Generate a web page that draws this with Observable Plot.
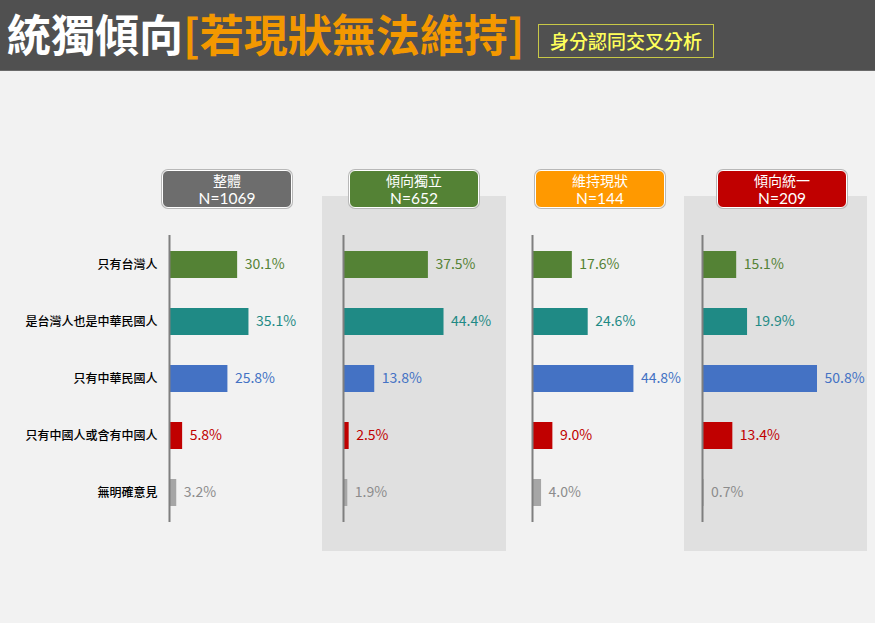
<!DOCTYPE html>
<html>
<head>
<meta charset="utf-8">
<script src="https://cdn.jsdelivr.net/npm/d3@7"></script>
<script src="https://cdn.jsdelivr.net/npm/@observablehq/plot@0.6"></script>
<style>
  html, body { margin: 0; padding: 0; }
  body { width: 875px; height: 623px; background: #f2f2f2; position: relative; overflow: hidden;
         font-family: "Noto Sans CJK TC", "Noto Sans", sans-serif; }
  #header { position: absolute; left: 0; top: 0; width: 875px; height: 70px; background: #505050; border-bottom: 1px solid #6a6a6a; }
  #title { position: absolute; left: 7px; top: 5px; font-size: 44px; font-weight: bold; line-height: 56px; color: #fff; white-space: nowrap; }
  #title .hl { color: #f39800; }
  #subtitle { position: absolute; left: 538px; top: 24px; width: 174px; height: 32px; border: 1px solid #c8c846; color: #ffff5a;
              font-size: 19px; line-height: 32px; text-align: center; font-weight: 500; }
  .ghead { position: absolute; top: 170px; width: 128px; height: 36px; border: 1.5px solid #fff; box-shadow: 0 0 0 1px #b8b8b8;
           border-radius: 6px; color: #fff; text-align: center; box-sizing: content-box; }
  .ghead .l1 { font-size: 14px; line-height: 18px; height: 18px; }
  .ghead .l2 { font-family: Lato, "Open Sans", sans-serif; font-size: 15.5px; line-height: 18px; height: 18px; }
  .panel { position: absolute; top: 196px; }
</style>
</head>
<body>
<div id="header">
  <div id="title">統獨傾向<span class="hl">[若現狀無法維持]</span></div>
  <div id="subtitle">身分認同交叉分析</div>
</div>
<div id="root"></div>
<script>
const categories = ["只有台灣人", "是台灣人也是中華民國人", "只有中華民國人", "只有中國人或含有中國人", "無明確意見"];
const groups = ["整體", "傾向獨立", "維持現狀", "傾向統一"];
const sampleSizes = [1069, 652, 144, 209];
const overall = [30.1, 35.1, 25.8, 5.8, 3.2];
const leanIndependence = [37.5, 44.4, 13.8, 2.5, 1.9];
const maintainStatusQuo = [17.6, 24.6, 44.8, 9.0, 4.0];
const leanUnification = [15.1, 19.9, 50.8, 13.4, 0.7];
const barColors = ["#548235", "#1f8a85", "#4472c4", "#c00000", "#a6a6a6"];
const labelColors = ["#548235", "#1f8a85", "#4472c4", "#c00000", "#8c8c8c"];
const headColors = ["#6d6d6d", "#548235", "#ff9900", "#c00000"];

const seriesList = [overall, leanIndependence, maintainStatusQuo, leanUnification];
// layout per panel (pixel placement of each small chart)
const layout = [
  {left: 0,   width: 332, marginLeft: 169, shaded: false, head: 162},
  {left: 322, width: 184, marginLeft: 21,  shaded: true,  head: 349},
  {left: 511, width: 184, marginLeft: 21,  shaded: false, head: 535},
  {left: 684, width: 183, marginLeft: 18,  shaded: true,  head: 717}
];

const root = document.getElementById("root");
seriesList.forEach((values, gi) => {
  const L = layout[gi];
  const data = categories.map((c, i) => ({cat: c, value: values[i], bar: barColors[i], lab: labelColors[i]}));
  const yOpts = {domain: categories, paddingInner: 0.53, paddingOuter: 0.265, label: null};
  if (gi !== 0) yOpts.axis = null;
  const chart = Plot.plot({
    width: L.width,
    height: 355,
    marginLeft: L.marginLeft,
    marginRight: L.width - L.marginLeft - 163,
    marginTop: 39,
    marginBottom: 29,
    style: {
      background: L.shaded ? "#e0e0e0" : "transparent",
      fontFamily: "'Noto Sans CJK TC', 'Noto Sans', sans-serif",
      overflow: "visible"
    },
    x: {domain: [0, 72], axis: null},
    y: yOpts,
    color: {type: "identity"},
    marks: [
      Plot.barX(data, {x: "value", y: "cat", fill: "bar"}),
      Plot.ruleX([0], {stroke: "#7f7f7f", strokeWidth: 2}),
      Plot.text(data, {x: "value", y: "cat", text: d => d.value.toFixed(1) + "%", fill: "lab",
                       textAnchor: "start", dx: 7, fontSize: 14}),
      ...(gi === 0 ? [Plot.axisY({tickSize: 0, tickPadding: 12, fontSize: 12, fontWeight: 500, fill: "#000", label: null})] : [])
    ]
  });
  const wrap = document.createElement("div");
  wrap.className = "panel";
  wrap.style.left = L.left + "px";
  wrap.appendChild(chart);
  root.appendChild(wrap);

  const head = document.createElement("div");
  head.className = "ghead";
  head.style.left = L.head + "px";
  head.style.background = headColors[gi];
  const l1 = document.createElement("div");
  l1.className = "l1";
  l1.textContent = groups[gi];
  const l2 = document.createElement("div");
  l2.className = "l2";
  l2.textContent = "N=" + sampleSizes[gi];
  head.appendChild(l1);
  head.appendChild(l2);
  root.appendChild(head);
});
</script>
</body>
</html>
